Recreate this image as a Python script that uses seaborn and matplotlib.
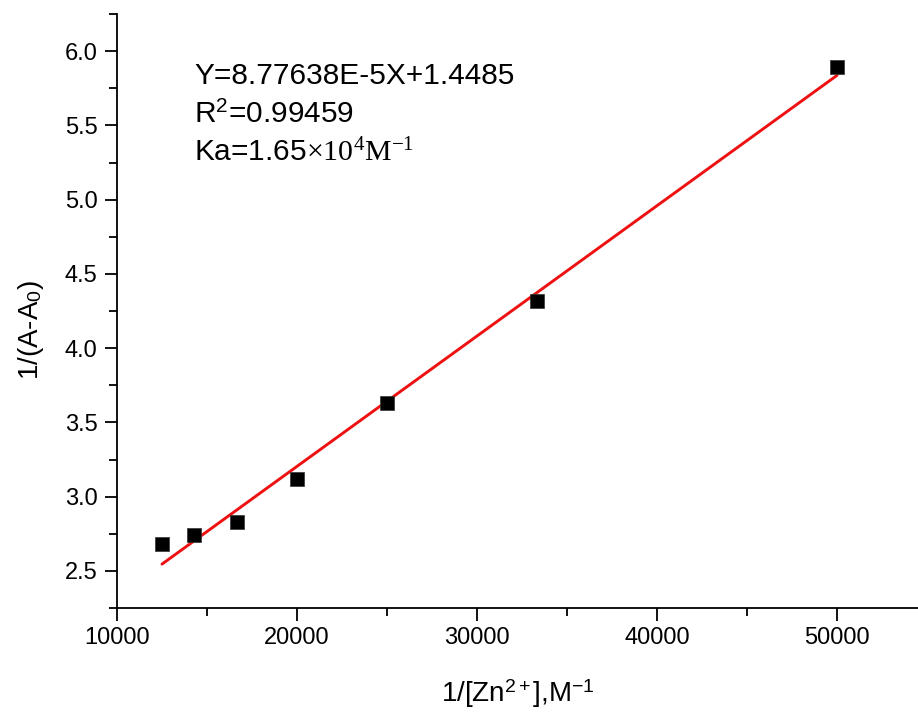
import numpy as np
import pandas as pd
import matplotlib
matplotlib.use("Agg")
import matplotlib.pyplot as plt
from matplotlib.ticker import MultipleLocator
import seaborn as sns

# ---- data ----
x_vals = [12500, 14286, 16667, 20000, 25000, 33333, 50000]
y_vals = [2.68, 2.74, 2.83, 3.12, 3.63, 4.32, 5.89]
fit_slope = 8.77638e-5
fit_intercept = 1.4485
fit_x = [12500, 50000]
eq_text = "Y=8.77638E-5X+1.4485"
r2_text = r"R$^{\mathsf{2}}$=0.99459"
ka_text = r"Ka=1.65$\times10^{4}\mathrm{M}^{-1}$"
x_ticks = [10000, 20000, 30000, 40000, 50000]
y_ticks = [2.5, 3.0, 3.5, 4.0, 4.5, 5.0, 5.5, 6.0]

sns.set_theme(style="ticks")
plt.rcParams['font.family'] = ['Liberation Sans', 'DejaVu Sans']
plt.rcParams['mathtext.fontset'] = 'custom'
plt.rcParams['mathtext.rm'] = 'Liberation Serif'
plt.rcParams['mathtext.sf'] = 'Liberation Sans'
plt.rcParams['mathtext.it'] = 'Liberation Serif:italic'
plt.rcParams['text.color'] = 'black'
plt.rcParams['axes.labelcolor'] = 'black'

df = pd.DataFrame({"x": x_vals, "y": y_vals})
fit_df = pd.DataFrame({"x": fit_x,
                       "y": [fit_slope * v + fit_intercept for v in fit_x]})

fig = plt.figure(figsize=(9.18, 7.12), dpi=100)
ax = fig.add_axes([117/918, 104/712, (918-117)/918, (608-14)/712])

sns.lineplot(data=fit_df, x="x", y="y", ax=ax, color="#ee1111", lw=2.1,
             zorder=2)
sns.scatterplot(data=df, x="x", y="y", ax=ax, marker="s", s=92,
                color="black", edgecolor="#333333", linewidth=0.5, zorder=3)

ax.set_xlim(10000, 54500)
ax.set_ylim(2.25, 6.25)
ax.set_xticks(x_ticks)
ax.set_yticks(y_ticks)
ax.set_yticklabels([f"{v:.1f}" for v in y_ticks])
ax.xaxis.set_minor_locator(MultipleLocator(5000))
ax.yaxis.set_minor_locator(MultipleLocator(0.25))

for s in ["top", "right"]:
    ax.spines[s].set_visible(False)
for s in ["left", "bottom"]:
    ax.spines[s].set_linewidth(1.3)
    ax.spines[s].set_color("black")

ax.tick_params(which="major", direction="out", length=9, width=1.3,
               labelsize=17, pad=5, colors="black")
ax.tick_params(which="minor", direction="out", length=5.5, width=1.3,
               colors="black")

ax.set_xlabel(r"1/[Zn$^{\mathsf{2+}}$],M$^{\mathsf{-1}}$", fontsize=20,
              labelpad=20)
ax.set_ylabel(r"1/(A-A$_{\mathsf{0}}$)", fontsize=20)
ax.yaxis.set_label_coords(-0.089, 0.468)

tx = 14280
ax.text(tx, 5.777, eq_text, fontsize=21.5, va="baseline", ha="left")
ax.text(tx, 5.515, r2_text, fontsize=21.5, va="baseline", ha="left")
ax.text(tx, 5.255, ka_text, fontsize=21.5, va="baseline", ha="left")

fig.savefig("out.png", dpi=100)
